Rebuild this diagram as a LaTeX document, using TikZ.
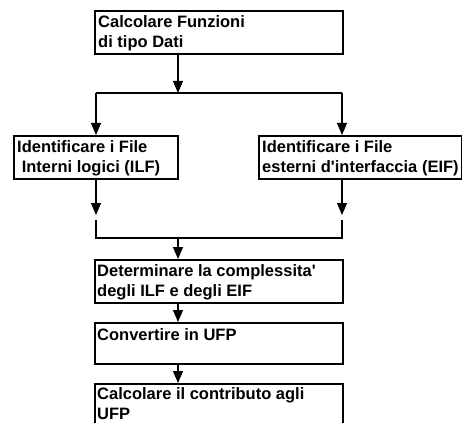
\documentclass[tikz,border=0pt]{standalone}
\usepackage{fontspec}
\setmainfont{Liberation Sans}
\usetikzlibrary{arrows.meta}
\begin{document}
\begin{tikzpicture}[x=1pt,y=-1pt,
  box/.style={draw, line width=1.6pt, inner sep=0pt, anchor=north west, minimum height=43pt},
  txt/.style={anchor=base west, inner sep=0pt, align=left, font=\bfseries\fontsize{16.5}{20}\selectfont},
  arr/.style={line width=1.1pt, -{Triangle[width=10pt,length=12pt]}},
  ln/.style={line width=1.1pt}]
\useasboundingbox (0,0) rectangle (462,422);
\clip (0,0) rectangle (462,422);
% boxes
\node[box, minimum width=248pt] (b1) at (94,10) {};
\node[box, minimum width=164pt] (b2) at (13,135) {};
\node[box, minimum width=203pt] (b3) at (258,135) {};
\node[box, minimum width=248pt] (b4) at (94,259) {};
\node[box, minimum width=248pt, minimum height=41pt] (b5) at (94,322) {};
\node[box, minimum width=248pt, minimum height=60pt] (b6) at (94,383) {};
% texts (anchor at baseline of last line)
\node[txt] (t1) at (98,48) {Calcolare Funzioni\\di tipo Dati};
\node[txt] (t2) at (17,172) {Identificare i File\\\ Interni logici (ILF)};
\node[txt] (t3) at (262,172) {Identificare i File\\esterni d\textquotesingle interfaccia (EIF)};
\node[txt] (t4) at (97,296) {Determinare la complessita\textquotesingle\\degli ILF e degli EIF};
\node[txt] (t5) at (97,340) {Convertire in UFP};
\node[txt] (t6) at (97,419) {Calcolare il contributo agli\\UFP};
% junctions
\coordinate (j1) at (178,93);
\coordinate (c1) at (96,93);
\coordinate (c2) at (342,93);
\coordinate (d1) at (96,215);
\coordinate (d2) at (342,215);
\coordinate (e1) at (96,220);
\coordinate (e2) at (342,220);
\coordinate (f1) at (96,238);
\coordinate (f2) at (342,238);
\coordinate (j2) at (178,238);
% connectors
\draw[arr] (b1.south -| j1) -- (j1);
\draw[ln] (c1) -- (c2);
\draw[arr] (c1) -- (c1 |- b2.north);
\draw[arr] (c2) -- (c2 |- b3.north);
\draw[arr] (b2.south -| d1) -- (d1);
\draw[arr] (b3.south -| d2) -- (d2);
\draw[ln] (e1) -- (f1) -- (f2) -- (e2);
\draw[arr] (j2) -- (j2 |- b4.north);
\draw[arr] (b4.south -| j2) -- (j2 |- b5.north);
\draw[arr] (b5.south -| j2) -- (j2 |- b6.north);
\end{tikzpicture}
\end{document}
